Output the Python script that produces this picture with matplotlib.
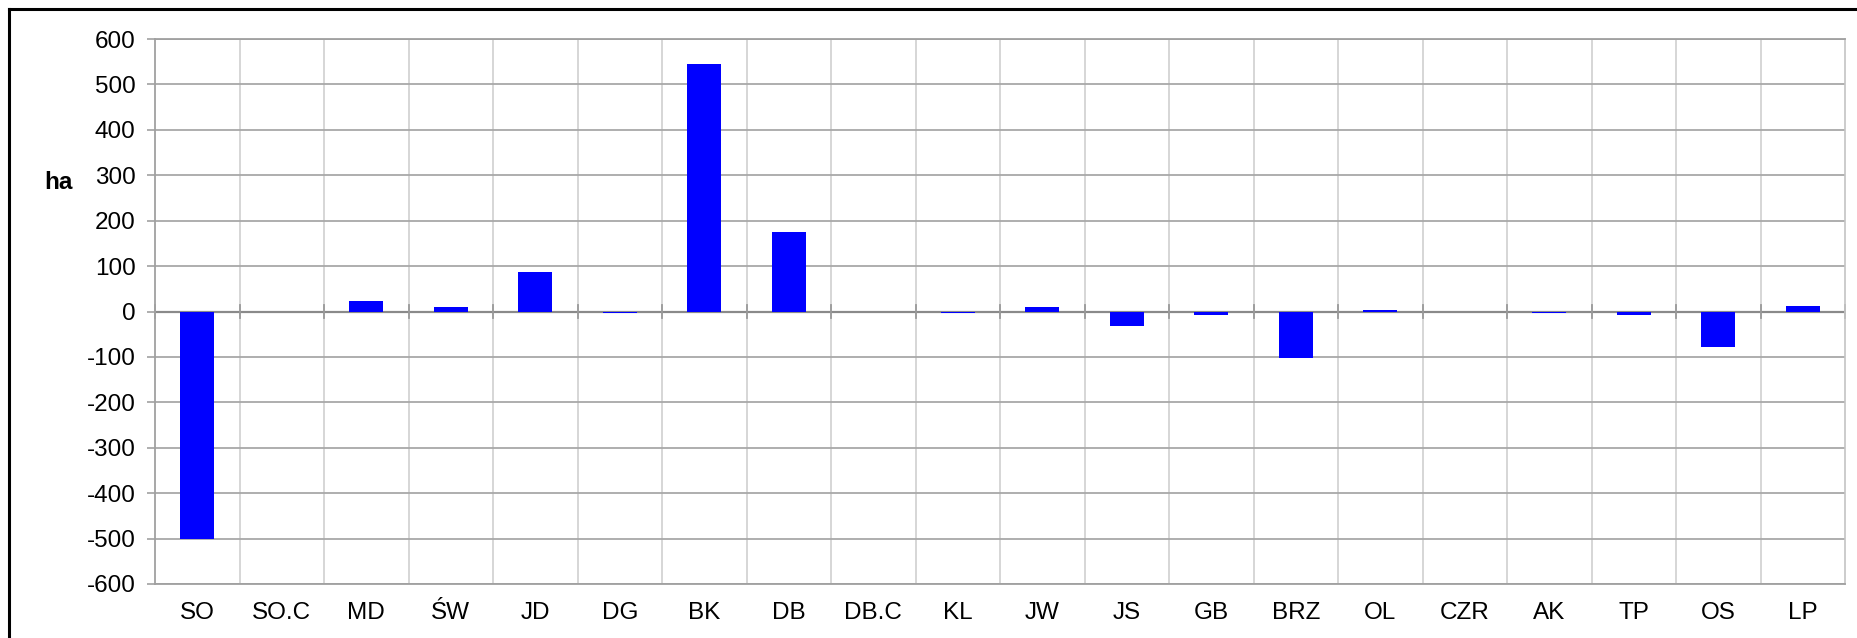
import numpy as np
import matplotlib.pyplot as plt
from matplotlib.lines import Line2D

plt.rcParams['font.family'] = ['Liberation Sans', 'DejaVu Sans']
plt.rcParams['axes.unicode_minus'] = False

# area change per unit (ha)
categories = ["SO", "SO.C", "MD", "ŚW", "JD", "DG", "BK", "DB", "DB.C", "KL",
              "JW", "JS", "GB", "BRZ", "OL", "CZR", "AK", "TP", "OS", "LP"]
values = [-500, 0, 24, 9, 87, -3, 545, 175, 0, -4,
          9, -31, -7, -102, 4, 0, -3, -7, -78, 12]
y_ticks = list(range(-600, 601, 100))

W, H = 1858, 638
fig = plt.figure(figsize=(W / 100, H / 100), dpi=100)
ax = fig.add_axes([155 / W, 1 - 584 / H, (1845 - 155) / W, (584 - 39) / H])

x = np.arange(len(categories))
ax.bar(x, values, width=0.4, color='#0000ff', linewidth=0, zorder=3)

ax.set_xlim(-0.5, len(categories) - 0.5)
ax.set_ylim(-600, 600)
ax.set_yticks(y_ticks)
ax.set_xticks(x)
ax.set_xticklabels(categories)
ax.set_xticks(x[:-1] + 0.5, minor=True)

# gridlines
ax.grid(axis='y', which='major', color='#a8a8a8', linewidth=1.3, zorder=0)
ax.grid(axis='x', which='minor', color='#cccccc', linewidth=1.1, zorder=0)
ax.axhline(0, color='#8a8a8a', linewidth=1.6, zorder=2)

# small category ticks crossing the zero line
for b in np.arange(len(categories) + 1) - 0.5:
    ax.axvline(b, ymin=0.5 - 0.012, ymax=0.5 + 0.012, color='#999999',
               linewidth=1.3, zorder=2, clip_on=False)

ax.tick_params(axis='y', direction='out', length=6, width=1.1, color='#999999',
               labelsize=17.5, pad=8)
ax.tick_params(axis='x', which='both', length=0, labelsize=17.5, pad=13)

for side in ['left', 'bottom', 'top']:
    ax.spines[side].set_color('#a0a0a0')
    ax.spines[side].set_linewidth(1.3)
ax.spines['right'].set_color('#c4c4c4')
ax.spines['right'].set_linewidth(1.2)

fig.text(58 / W, 1 - 182 / H, "ha", fontsize=17.5, fontweight='bold',
         ha='center', va='center')

# outer frame (top and left edges visible)
fig.add_artist(Line2D([9 / W, 9 / W], [0, 1 - 9 / H], color='black',
                      linewidth=2.2, transform=fig.transFigure))
fig.add_artist(Line2D([9 / W, 1], [1 - 9 / H, 1 - 9 / H], color='black',
                      linewidth=2.2, transform=fig.transFigure))

fig.savefig("out.png", dpi=100, facecolor='white')
